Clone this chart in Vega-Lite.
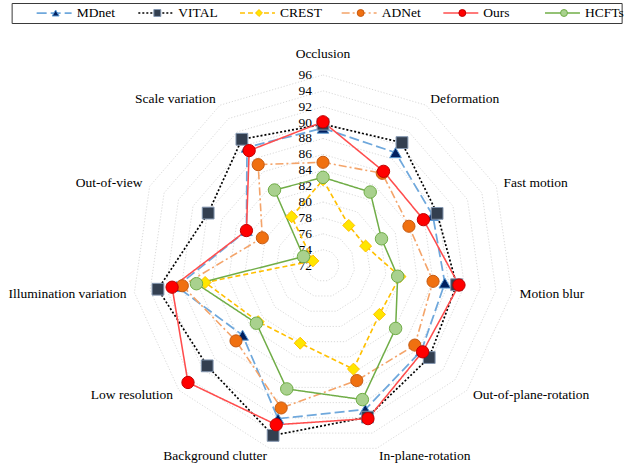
{
  "$schema": "https://vega.github.io/schema/vega-lite/v6.json",
  "background": "white",
  "padding": {"left": 0, "top": 2, "right": 0, "bottom": 0},
  "spacing": 8,
  "center": true,
  "config": {
    "view": {"stroke": null},
    "font": "Liberation Serif",
    "text": {"font": "Liberation Serif", "fontSize": 13.5, "color": "#000"}
  },
  "resolve": {"scale": {"x": "independent", "y": "independent"}},
  "datasets": {
    "axes": [
      {"attr": "Occlusion", "i": 0, "rings": [74, 76, 78, 80, 82, 84, 86, 88, 90, 92, 94, 96]},
      {"attr": "Deformation", "i": 1, "rings": [74, 76, 78, 80, 82, 84, 86, 88, 90, 92, 94, 96]},
      {"attr": "Fast motion", "i": 2, "rings": [74, 76, 78, 80, 82, 84, 86, 88, 90, 92, 94, 96]},
      {"attr": "Motion blur", "i": 3, "rings": [74, 76, 78, 80, 82, 84, 86, 88, 90, 92, 94, 96]},
      {"attr": "Out-of-plane-rotation", "i": 4, "rings": [74, 76, 78, 80, 82, 84, 86, 88, 90, 92, 94, 96]},
      {"attr": "In-plane-rotation", "i": 5, "rings": [74, 76, 78, 80, 82, 84, 86, 88, 90, 92, 94, 96]},
      {"attr": "Background clutter", "i": 6, "rings": [74, 76, 78, 80, 82, 84, 86, 88, 90, 92, 94, 96]},
      {"attr": "Low resolution", "i": 7, "rings": [74, 76, 78, 80, 82, 84, 86, 88, 90, 92, 94, 96]},
      {"attr": "Illumination variation", "i": 8, "rings": [74, 76, 78, 80, 82, 84, 86, 88, 90, 92, 94, 96]},
      {"attr": "Out-of-view", "i": 9, "rings": [74, 76, 78, 80, 82, 84, 86, 88, 90, 92, 94, 96]},
      {"attr": "Scale variation", "i": 10, "rings": [74, 76, 78, 80, 82, 84, 86, 88, 90, 92, 94, 96]}
    ],
    "radial_levels": [
      {"level": 72}, {"level": 74}, {"level": 76}, {"level": 78}, {"level": 80},
      {"level": 82}, {"level": 84}, {"level": 86}, {"level": 88}, {"level": 90},
      {"level": 92}, {"level": 94}, {"level": 96}
    ],
    "scores": [
      {"method": "MDnet", "attr": "Occlusion", "value": 89.3},
      {"method": "MDnet", "attr": "Deformation", "value": 88.9},
      {"method": "MDnet", "attr": "Fast motion", "value": 87.2},
      {"method": "MDnet", "attr": "Motion blur", "value": 87.5},
      {"method": "MDnet", "attr": "Out-of-plane-rotation", "value": 88.4},
      {"method": "MDnet", "attr": "In-plane-rotation", "value": 90.9},
      {"method": "MDnet", "attr": "Background clutter", "value": 92.1},
      {"method": "MDnet", "attr": "Low resolution", "value": 85.4},
      {"method": "MDnet", "attr": "Illumination variation", "value": 90.6},
      {"method": "MDnet", "attr": "Out-of-view", "value": 82.6},
      {"method": "MDnet", "attr": "Scale variation", "value": 89.7},
      {"method": "VITAL", "attr": "Occlusion", "value": 89.8},
      {"method": "VITAL", "attr": "Deformation", "value": 90.4},
      {"method": "VITAL", "attr": "Fast motion", "value": 87.8},
      {"method": "VITAL", "attr": "Motion blur", "value": 89.0},
      {"method": "VITAL", "attr": "Out-of-plane-rotation", "value": 89.7},
      {"method": "VITAL", "attr": "In-plane-rotation", "value": 91.9},
      {"method": "VITAL", "attr": "Background clutter", "value": 94.3},
      {"method": "VITAL", "attr": "Low resolution", "value": 91.3},
      {"method": "VITAL", "attr": "Illumination variation", "value": 93.0},
      {"method": "VITAL", "attr": "Out-of-view", "value": 87.9},
      {"method": "VITAL", "attr": "Scale variation", "value": 90.9},
      {"method": "CREST", "attr": "Occlusion", "value": 82.8},
      {"method": "CREST", "attr": "Deformation", "value": 78.0},
      {"method": "CREST", "attr": "Fast motion", "value": 77.9},
      {"method": "CREST", "attr": "Motion blur", "value": 81.8},
      {"method": "CREST", "attr": "Out-of-plane-rotation", "value": 81.4},
      {"method": "CREST", "attr": "In-plane-rotation", "value": 85.6},
      {"method": "CREST", "attr": "Background clutter", "value": 82.2},
      {"method": "CREST", "attr": "Low resolution", "value": 82.8},
      {"method": "CREST", "attr": "Illumination variation", "value": 87.0},
      {"method": "CREST", "attr": "Out-of-view", "value": 73.4},
      {"method": "CREST", "attr": "Scale variation", "value": 79.3},
      {"method": "ADNet", "attr": "Occlusion", "value": 85.0},
      {"method": "ADNet", "attr": "Deformation", "value": 85.8},
      {"method": "ADNet", "attr": "Fast motion", "value": 83.9},
      {"method": "ADNet", "attr": "Motion blur", "value": 86.0},
      {"method": "ADNet", "attr": "Out-of-plane-rotation", "value": 87.3},
      {"method": "ADNet", "attr": "In-plane-rotation", "value": 87.1},
      {"method": "ADNet", "attr": "Background clutter", "value": 90.7},
      {"method": "ADNet", "attr": "Low resolution", "value": 86.5},
      {"method": "ADNet", "attr": "Illumination variation", "value": 89.9},
      {"method": "ADNet", "attr": "Out-of-view", "value": 80.4},
      {"method": "ADNet", "attr": "Scale variation", "value": 87.1},
      {"method": "Ours", "attr": "Occlusion", "value": 90.1},
      {"method": "Ours", "attr": "Deformation", "value": 86.1},
      {"method": "Ours", "attr": "Fast motion", "value": 85.9},
      {"method": "Ours", "attr": "Motion blur", "value": 89.3},
      {"method": "Ours", "attr": "Out-of-plane-rotation", "value": 88.6},
      {"method": "Ours", "attr": "In-plane-rotation", "value": 92.1},
      {"method": "Ours", "attr": "Background clutter", "value": 92.9},
      {"method": "Ours", "attr": "Low resolution", "value": 94.5},
      {"method": "Ours", "attr": "Illumination variation", "value": 91.2},
      {"method": "Ours", "attr": "Out-of-view", "value": 82.6},
      {"method": "Ours", "attr": "Scale variation", "value": 89.2},
      {"method": "HCFTs", "attr": "Occlusion", "value": 83.1},
      {"method": "HCFTs", "attr": "Deformation", "value": 83.0},
      {"method": "HCFTs", "attr": "Fast motion", "value": 80.1},
      {"method": "HCFTs", "attr": "Motion blur", "value": 81.5},
      {"method": "HCFTs", "attr": "Out-of-plane-rotation", "value": 84.1},
      {"method": "HCFTs", "attr": "In-plane-rotation", "value": 89.6},
      {"method": "HCFTs", "attr": "Background clutter", "value": 88.2},
      {"method": "HCFTs", "attr": "Low resolution", "value": 83.1},
      {"method": "HCFTs", "attr": "Illumination variation", "value": 88.1},
      {"method": "HCFTs", "attr": "Out-of-view", "value": 74.7},
      {"method": "HCFTs", "attr": "Scale variation", "value": 83.3}
    ]
  },
  "vconcat": [
    {
      "width": 610,
      "height": 20,
      "view": {"stroke": "#3a3a3a", "strokeWidth": 1},
      "data": {"name": "scores"},
      "transform": [
        {"aggregate": [{"op": "count", "as": "n"}], "groupby": ["method"]}
      ],
      "layer": [
        {
          "mark": {"type": "rule"},
          "encoding": {
            "x": {"field": "method", "type": "nominal", "bandPosition": 0.246, "axis": null,
              "scale": {"type": "band", "domain": ["MDnet", "VITAL", "CREST", "ADNet", "Ours", "HCFTs"], "paddingInner": 0, "paddingOuter": 0}},
            "x2": {"field": "method", "bandPosition": 0.59},
            "color": {"field": "method", "type": "nominal", "legend": null,
              "scale": {"domain": ["MDnet", "VITAL", "CREST", "ADNet", "Ours", "HCFTs"],
                        "range": ["#6FA8DC", "#000000", "#FFC000", "#F4A46A", "#FF4D4D", "#70AD47"]}},
            "strokeDash": {"field": "method", "type": "nominal", "legend": null,
              "scale": {"domain": ["MDnet", "VITAL", "CREST", "ADNet", "Ours", "HCFTs"],
                        "range": [[10, 4], [2, 2], [5, 3], [8, 3, 2, 3], [1, 0], [1, 0]]}},
            "strokeWidth": {"field": "method", "type": "nominal", "legend": null,
              "scale": {"domain": ["MDnet", "VITAL", "CREST", "ADNet", "Ours", "HCFTs"],
                        "range": [1.75, 1.5, 1.5, 1.5, 2.5, 1.5]}}
          }
        },
        {
          "mark": {"type": "point", "filled": true, "opacity": 1, "size": 48, "strokeWidth": 1},
          "encoding": {
            "x": {"field": "method", "type": "nominal", "bandPosition": 0.433, "axis": null},
            "shape": {"field": "method", "type": "nominal", "legend": null,
              "scale": {"domain": ["MDnet", "VITAL", "CREST", "ADNet", "Ours", "HCFTs"],
                        "range": ["triangle-up", "square", "diamond", "circle", "circle", "circle"]}},
            "fill": {"field": "method", "type": "nominal", "legend": null,
              "scale": {"domain": ["MDnet", "VITAL", "CREST", "ADNet", "Ours", "HCFTs"],
                        "range": ["#002060", "#333F50", "#FFE600", "#F07010", "#FF0000", "#A9D18E"]}},
            "stroke": {"field": "method", "type": "nominal", "legend": null,
              "scale": {"domain": ["MDnet", "VITAL", "CREST", "ADNet", "Ours", "HCFTs"],
                        "range": ["#5B9BD5", "#8497B0", "#FFC000", "#C55A11", "#C00000", "#70AD47"]}}
          }
        },
        {
          "mark": {"type": "text", "align": "left", "baseline": "middle", "color": "#000"},
          "encoding": {
            "x": {"field": "method", "type": "nominal", "bandPosition": 0.64, "axis": null},
            "text": {"field": "method", "type": "nominal"}
          }
        }
      ]
    },
    {
      "width": 636,
      "height": 437,
      "encoding": {
        "x": {"field": "px", "type": "quantitative", "axis": null,
          "scale": {"domain": [-40.68, 39.42], "nice": false, "zero": false}},
        "y": {"field": "py", "type": "quantitative", "axis": null,
          "scale": {"domain": [-25.63, 29.41], "nice": false, "zero": false}}
      },
      "layer": [
        {
          "data": {"name": "axes"},
          "transform": [
            {"flatten": ["rings"], "as": ["ring"]},
            {"calculate": "datum.i * 2 * PI / 11", "as": "ang"},
            {"calculate": "(datum.ring - 72) * sin(datum.ang)", "as": "px"},
            {"calculate": "(datum.ring - 72) * cos(datum.ang)", "as": "py"}
          ],
          "mark": {"type": "line", "interpolate": "linear-closed", "color": "#CFCFCF", "strokeWidth": 0.8, "strokeDash": [1.2, 1.8]},
          "encoding": {
            "detail": {"field": "ring", "type": "nominal"},
            "order": {"field": "i", "type": "quantitative"}
          }
        },
        {
          "data": {"name": "radial_levels"},
          "transform": [
            {"calculate": "0", "as": "px"},
            {"calculate": "datum.level - 72", "as": "py"}
          ],
          "mark": {"type": "text", "align": "right", "baseline": "middle", "dx": -11, "color": "#000"},
          "encoding": {
            "text": {"field": "level", "type": "quantitative"}
          }
        },
        {
          "data": {"name": "scores"},
          "transform": [
            {"lookup": "attr", "from": {"data": {"name": "axes"}, "key": "attr", "fields": ["i"]}},
            {"calculate": "datum.i * 2 * PI / 11", "as": "ang"},
            {"calculate": "(datum.value - 72) * sin(datum.ang)", "as": "px"},
            {"calculate": "(datum.value - 72) * cos(datum.ang)", "as": "py"}
          ],
          "layer": [
            {
              "mark": {"type": "line", "interpolate": "linear-closed"},
              "encoding": {
                "color": {"field": "method", "type": "nominal", "legend": null},
                "strokeDash": {"field": "method", "type": "nominal", "legend": null},
                "strokeWidth": {"field": "method", "type": "nominal", "legend": null},
                "order": {"field": "i", "type": "quantitative"}
              }
            },
            {
              "mark": {"type": "point", "filled": true, "opacity": 1, "strokeWidth": 1},
              "encoding": {
                "shape": {"field": "method", "type": "nominal", "legend": null},
                "fill": {"field": "method", "type": "nominal", "legend": null},
                "stroke": {"field": "method", "type": "nominal", "legend": null},
                "size": {"field": "method", "type": "nominal", "legend": null,
                  "scale": {"domain": ["MDnet", "VITAL", "CREST", "ADNet", "Ours", "HCFTs"],
                            "range": [135, 155, 110, 62, 82, 68]}}
              }
            }
          ]
        },
        {
          "data": {"name": "axes"},
          "transform": [
            {"filter": "datum.i >= 1 && datum.i <= 5"},
            {"calculate": "datum.i * 2 * PI / 11", "as": "ang"},
            {"calculate": "25 * sin(datum.ang)", "as": "px"},
            {"calculate": "25 * cos(datum.ang)", "as": "py"}
          ],
          "mark": {"type": "text", "align": "left", "baseline": "middle"},
          "encoding": {"text": {"field": "attr", "type": "nominal"}}
        },
        {
          "data": {"name": "axes"},
          "transform": [
            {"filter": "datum.i >= 6"},
            {"calculate": "datum.i * 2 * PI / 11", "as": "ang"},
            {"calculate": "25 * sin(datum.ang)", "as": "px"},
            {"calculate": "25 * cos(datum.ang)", "as": "py"}
          ],
          "mark": {"type": "text", "align": "right", "baseline": "middle"},
          "encoding": {"text": {"field": "attr", "type": "nominal"}}
        },
        {
          "data": {"name": "axes"},
          "transform": [
            {"filter": "datum.i == 0"},
            {"calculate": "0", "as": "px"},
            {"calculate": "25", "as": "py"}
          ],
          "mark": {"type": "text", "align": "center", "baseline": "bottom", "dy": -6},
          "encoding": {"text": {"field": "attr", "type": "nominal"}}
        }
      ]
    }
  ]
}
